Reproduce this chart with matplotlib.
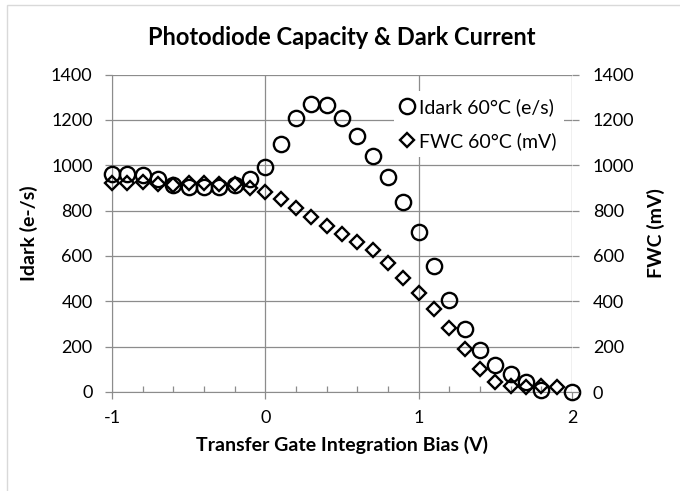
import matplotlib
matplotlib.use("Agg")
import matplotlib.pyplot as plt
from matplotlib.patches import Rectangle
from matplotlib.ticker import MultipleLocator

plt.rcParams['font.family'] = ['Lato', 'DejaVu Sans']
plt.rcParams['axes.unicode_minus'] = False

# bias (V) for each series
bias_idark = [-1.0, -0.9, -0.8, -0.7, -0.6, -0.5, -0.4, -0.3, -0.2, -0.1,
              0.0, 0.1, 0.2, 0.3, 0.4, 0.5, 0.6, 0.7, 0.8, 0.9,
              1.0, 1.1, 1.2, 1.3, 1.4, 1.5, 1.6, 1.7, 1.8, 2.0]
idark = [960, 960, 958, 941, 912, 902, 902, 904, 912, 941,
         992, 1092, 1208, 1270, 1264, 1208, 1128, 1041, 948, 840,
         707, 555, 405, 280, 185, 120, 78, 45, 10, 2]

bias_fwc = [-1.0, -0.9, -0.8, -0.7, -0.6, -0.5, -0.4, -0.3, -0.2, -0.1,
            0.0, 0.1, 0.2, 0.3, 0.4, 0.5, 0.6, 0.7, 0.8, 0.9,
            1.0, 1.1, 1.2, 1.3, 1.4, 1.5, 1.6, 1.7, 1.8, 1.9]
fwc = [920, 922, 925, 918, 912, 922, 922, 919, 918, 901,
       884, 852, 811, 771, 732, 696, 662, 624, 567, 501,
       437, 364, 283, 191, 100, 45, 25, 20, 28, 22]

title = "Photodiode Capacity & Dark Current"
idark_label = "Idark 60°C (e/s)"
fwc_label = "FWC 60°C (mV)"

grid_col = "#8c8c8c"

fig = plt.figure(figsize=(6.8, 4.91), dpi=100)
# light chart border (left/top visible)
fig.patches.append(Rectangle((7 / 680, -0.1), 1.2, 1 - 5 / 491 + 0.1, transform=fig.transFigure,
                             fill=False, edgecolor="#d9d9d9", lw=1.0))

ax = fig.add_axes([112 / 680, 1 - 392 / 491, 460 / 680, 317.5 / 491])
ax2 = ax.twinx()

ax.set_xlim(-1, 2)
ax.set_ylim(0, 1400)
ax2.set_ylim(0, 1400)
ax.xaxis.set_major_locator(MultipleLocator(1))
ax.xaxis.set_minor_locator(MultipleLocator(0.2))
ax.yaxis.set_major_locator(MultipleLocator(200))
ax2.yaxis.set_major_locator(MultipleLocator(200))

ax.grid(True, which="major", color=grid_col, lw=0.9)
ax.set_axisbelow(True)
for s in ["top", "right"]:
    ax.spines[s].set_visible(False)
for s in ["top", "right", "left", "bottom"]:
    ax2.spines[s].set_visible(False)
ax.spines["left"].set_color(grid_col)
ax.spines["bottom"].set_color(grid_col)

ax.tick_params(axis="x", which="major", direction="out", length=5, width=0.9, color=grid_col,
               labelsize=13, pad=8)
ax.tick_params(axis="x", which="minor", direction="in", length=4.5, width=0.9, color=grid_col)
ax.tick_params(axis="y", which="major", direction="out", length=5, width=0.9, color=grid_col,
               labelsize=13, pad=9)
ax2.tick_params(axis="y", which="major", direction="out", length=5, width=0.9, color=grid_col,
                labelsize=13, pad=10)

h1, = ax.plot(bias_idark, idark, ls="none", marker="o", ms=11, mfc="none", mec="black",
              mew=1.7, label=idark_label, zorder=3, clip_on=False)
h2, = ax2.plot(bias_fwc, fwc, ls="none", marker="D", ms=7.2, mfc="none", mec="black",
               mew=1.7, label=fwc_label, zorder=3, clip_on=False)

leg = ax2.legend(handles=[h1, h2], loc="upper right", bbox_to_anchor=(1.004, 0.98),
                 fontsize=14, frameon=True, facecolor="white", edgecolor="none",
                 framealpha=1, handlelength=0.6, handletextpad=0.3, labelspacing=0.8,
                 borderpad=0.4, fancybox=False)

ax.set_title(title, fontsize=17, fontweight="bold", pad=21)
ax.set_xlabel("Transfer Gate Integration Bias (V)", fontsize=14, fontweight="bold", labelpad=7)
ax.set_ylabel("Idark (e-/s)", fontsize=14, fontweight="bold", labelpad=9)
ax2.set_ylabel("FWC (mV)", fontsize=14, fontweight="bold", rotation=90, labelpad=9)

fig.savefig("out.png", dpi=100, facecolor="white")
